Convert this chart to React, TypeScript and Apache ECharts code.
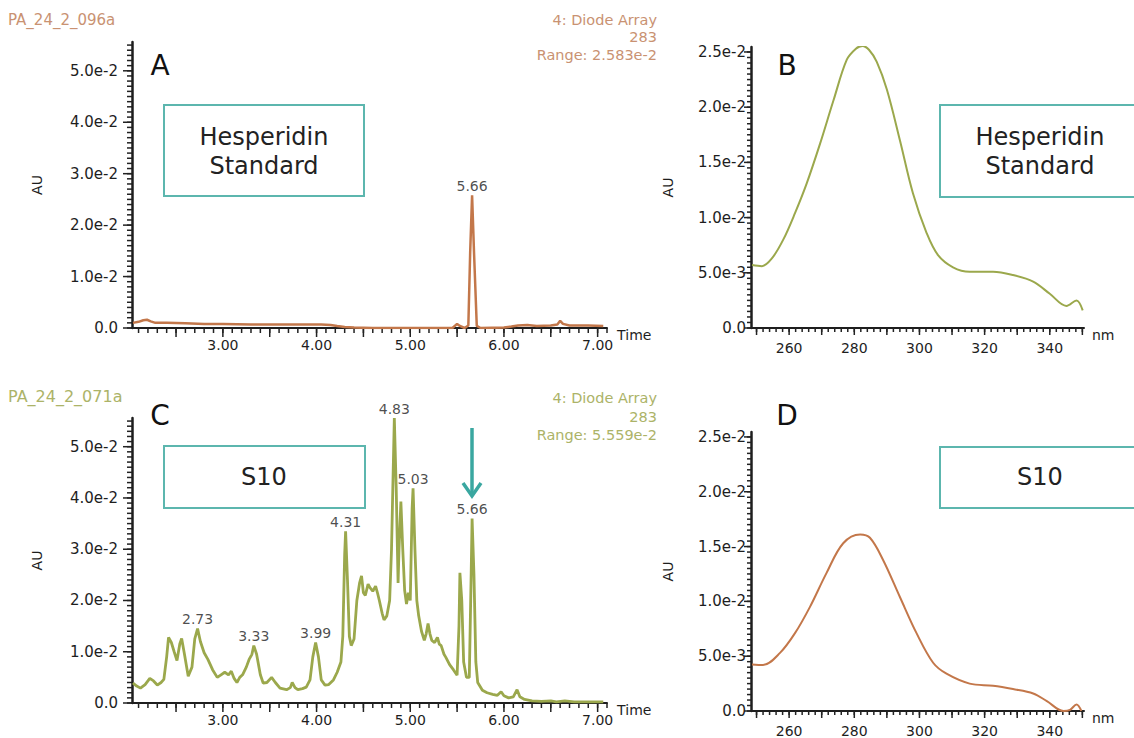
import React, { useEffect, useRef } from "react";
import * as echarts from "echarts";

// ---- Panel A: Hesperidin standard chromatogram (283 nm) ----
const timeA = [2.04, 2.1, 2.15, 2.19, 2.23, 2.28, 2.4, 2.6, 2.8, 3.0, 3.3, 3.6, 3.9, 4.05, 4.15, 4.22, 4.3, 4.4, 4.6, 5.0, 5.45, 5.5, 5.53, 5.58, 5.62, 5.64, 5.66, 5.68, 5.71, 5.75, 6.0, 6.08, 6.15, 6.25, 6.35, 6.5, 6.57, 6.6, 6.63, 6.7, 6.9, 7.06];
const auA = [0.001, 0.0012, 0.0015, 0.0016, 0.0013, 0.001, 0.001, 0.0009, 0.0008, 0.0008, 0.0007, 0.0007, 0.0007, 0.0007, 0.0006, 0.0004, 0.0002, 0.0001, 0.0, 0.0, 0.0, 0.0008, 0.0004, 0.0, 0.0005, 0.015, 0.0258, 0.015, 0.0004, 0.0, 0.0001, 0.0003, 0.0005, 0.0006, 0.0004, 0.0005, 0.0007, 0.0014, 0.0008, 0.0005, 0.0005, 0.0004];
const peakTimesA = [5.66];

// ---- Panel C: S10 chromatogram (283 nm) ----
const timeC = [2.04, 2.08, 2.12, 2.17, 2.22, 2.26, 2.3, 2.34, 2.37, 2.4, 2.42, 2.45, 2.48, 2.51, 2.54, 2.56, 2.59, 2.63, 2.67, 2.7, 2.73, 2.76, 2.8, 2.84, 2.89, 2.94, 2.98, 3.02, 3.06, 3.09, 3.12, 3.15, 3.18, 3.21, 3.25, 3.28, 3.31, 3.33, 3.36, 3.4, 3.43, 3.47, 3.52, 3.56, 3.61, 3.68, 3.72, 3.74, 3.77, 3.8, 3.85, 3.89, 3.93, 3.96, 3.99, 4.02, 4.05, 4.09, 4.13, 4.18, 4.22, 4.26, 4.28, 4.3, 4.31, 4.33, 4.35, 4.37, 4.4, 4.43, 4.46, 4.48, 4.5, 4.52, 4.55, 4.57, 4.6, 4.63, 4.65, 4.67, 4.7, 4.72, 4.75, 4.78, 4.8, 4.83, 4.85, 4.87, 4.88, 4.9, 4.92, 4.94, 4.96, 4.98, 5.0, 5.02, 5.03, 5.05, 5.07, 5.09, 5.12, 5.15, 5.17, 5.19, 5.21, 5.23, 5.26, 5.29, 5.31, 5.33, 5.36, 5.38, 5.42, 5.46, 5.5, 5.52, 5.53, 5.55, 5.57, 5.6, 5.63, 5.65, 5.66, 5.68, 5.7, 5.72, 5.77, 5.82, 5.88, 5.93, 5.97, 6.0, 6.05, 6.1, 6.14, 6.17, 6.22, 6.3, 6.4, 6.5, 6.56, 6.65, 6.75, 6.9, 7.06];
const auC = [0.0039, 0.0033, 0.0029, 0.0036, 0.0048, 0.0043, 0.0035, 0.004, 0.0046, 0.009, 0.0128, 0.0118, 0.01, 0.0083, 0.0115, 0.0126, 0.0095, 0.0052, 0.007, 0.0125, 0.0145, 0.012, 0.0098, 0.0085, 0.0065, 0.005, 0.0055, 0.006, 0.0055, 0.0062, 0.0048, 0.004, 0.005, 0.0055, 0.007, 0.0085, 0.0095, 0.0112, 0.0095, 0.0055, 0.0039, 0.004, 0.005, 0.004, 0.0029, 0.0026, 0.003, 0.004, 0.003, 0.0026, 0.0028, 0.0031, 0.0045, 0.009, 0.0118, 0.009, 0.0045, 0.0035, 0.0036, 0.0045, 0.006, 0.008, 0.013, 0.029, 0.0335, 0.024, 0.013, 0.0112, 0.0125, 0.02, 0.0235, 0.0248, 0.0215, 0.021, 0.0232, 0.0225, 0.0218, 0.0228, 0.0215, 0.02, 0.0175, 0.0162, 0.017, 0.02, 0.03, 0.0556, 0.042, 0.0234, 0.03, 0.0393, 0.03, 0.022, 0.0193, 0.0215, 0.02, 0.038, 0.0419, 0.03, 0.02, 0.017, 0.014, 0.0122, 0.0135, 0.0155, 0.0135, 0.0122, 0.0118, 0.0128, 0.0115, 0.0112, 0.0095, 0.0089, 0.0075, 0.0065, 0.0054, 0.015, 0.0254, 0.02, 0.008, 0.005, 0.005, 0.025, 0.036, 0.025, 0.008, 0.004, 0.0025, 0.002, 0.0017, 0.0015, 0.0022, 0.0014, 0.001, 0.0012, 0.0026, 0.0012, 0.0007, 0.0004, 0.0003, 0.0004, 0.0002, 0.0004, 0.0002, 0.0002, 0.0002];
const peakTimesC = [2.73, 3.33, 3.99, 4.31, 4.83, 5.03, 5.66];

// ---- Panel B: Hesperidin standard UV spectrum ----
const nmB = [248.6, 251.6, 254.7, 258.2, 261.8, 265.4, 269.5, 273.6, 277.7, 280.5, 282.5, 284.5, 286.9, 290, 294, 298, 302.2, 305.7, 310.3, 315.4, 322.6, 328.7, 334.9, 340, 345.1, 348.2, 350.1];
const auB = [0.0057, 0.0056, 0.0063, 0.008, 0.0104, 0.0131, 0.0167, 0.0206, 0.0243, 0.0253, 0.02555, 0.0252, 0.0241, 0.0216, 0.017, 0.0122, 0.0086, 0.0066, 0.0055, 0.0051, 0.0051, 0.0048, 0.0042, 0.0031, 0.002, 0.0025, 0.0016];

// ---- Panel D: S10 UV spectrum ----
const nmD = [248.6, 252, 257.2, 261.8, 266.4, 271.5, 276.6, 281.8, 284.8, 288.8, 294, 299.1, 304.2, 308.3, 315.4, 322.6, 328.7, 334.9, 339.1, 344.2, 346.2, 348.2, 349.7];
const auD = [0.00425, 0.0042, 0.0053, 0.0071, 0.0095, 0.0126, 0.0153, 0.0161, 0.0158, 0.0138, 0.0104, 0.0071, 0.0044, 0.0034, 0.0025, 0.0023, 0.002, 0.0016, 0.0009, 0.0, 0.0001, 0.0006, 0.0];

// ---- tick labels ----
const timeTickLabels = [3, 4, 5, 6, 7];
const nmTickLabels = [260, 280, 300, 320, 340];

// ---- texts ----
const fileA = "PA_24_2_096a";
const fileC = "PA_24_2_071a";
const infoA = ["4: Diode Array", "283", "Range: 2.583e-2"];
const infoC = ["4: Diode Array", "283", "Range: 5.559e-2"];
const boxAB = "Hesperidin\nStandard";
const boxCD = "S10";

const FONT = "DejaVu Sans";
const INK = "#1e1e1e";
const TICK = "#222222";
const BROWN = "#c3774a";
const OLIVE = "#9ba84c";
const TEAL = "#5cb6ae";

function pairs(x: number[], y: number[]) {
  return x.map((v, i) => [v, y[i]]);
}
function peakData(times: number[], x: number[], y: number[]) {
  return times.map((t) => [t, y[x.indexOf(t)]]);
}
function steps(a: number, b: number, step: number) {
  const out: number[] = [];
  const n = Math.round((b - a) / step);
  for (let i = 0; i <= n; i++) out.push(Math.round((a + i * step) * 1e7) / 1e7);
  return out;
}
const auFmt = (v: number) => (v === 0 ? "0.0" : v.toExponential(1));

type Rect = { left: number; top: number; width: number; height: number };

function txt(x: number, y: number, text: string, size: number, fill: string, align = "center", vAlign = "middle", lineHeight?: number) {
  return {
    type: "text",
    x,
    y,
    silent: true,
    z: 10,
    style: {
      text,
      fill,
      fontFamily: FONT,
      fontSize: size,
      align,
      verticalAlign: vAlign,
      lineHeight: lineHeight ?? Math.round(size * 1.2),
    },
  };
}

function boxRect(x: number, y: number, w: number, h: number) {
  return {
    type: "rect",
    shape: { x, y, width: w, height: h },
    silent: true,
    z: 9,
    style: { fill: "#ffffff", stroke: TEAL, lineWidth: 2 },
  };
}

function buildOption() {
  const grids: any[] = [];
  const xAxes: any[] = [];
  const yAxes: any[] = [];
  const series: any[] = [];

  function panel(cfg: {
    rect: Rect;
    xMin: number;
    xMax: number;
    yMax: number;
    yInterval: number;
    xLabels: number[];
    xFmt: (v: number) => string;
    xName: string;
    xNameGap: number;
    xMargin: number;
    yMargin: number;
    yNameGap: number;
    xMinor: number[];
    xMajor: number[];
    yMinor: number[];
    yMajor: number[];
    minorLen: number;
    majorLen: number;
  }) {
    const g = grids.length;
    grids.push({ ...cfg.rect });
    const xi = xAxes.length;
    xAxes.push({
      type: "value",
      gridIndex: g,
      position: "bottom",
      min: cfg.xMin,
      max: cfg.xMax,
      axisLine: { show: true, onZero: false, lineStyle: { color: INK, width: 2 } },
      axisTick: { show: false },
      axisLabel: {
        show: true,
        customValues: cfg.xLabels,
        formatter: cfg.xFmt,
        margin: cfg.xMargin,
        fontFamily: FONT,
        fontSize: 14,
        color: INK,
      },
      splitLine: { show: false },
      name: cfg.xName,
      nameLocation: "end",
      nameGap: cfg.xNameGap,
      nameTextStyle: { fontFamily: FONT, fontSize: 14, color: INK, verticalAlign: "top" },
    });
    const yi = yAxes.length;
    yAxes.push({
      type: "value",
      gridIndex: g,
      position: "left",
      min: 0,
      max: cfg.yMax,
      interval: cfg.yInterval,
      axisLine: { show: true, lineStyle: { color: INK, width: 2.5 } },
      axisTick: { show: false },
      axisLabel: {
        show: true,
        formatter: auFmt,
        showMaxLabel: false,
        margin: cfg.yMargin,
        fontFamily: FONT,
        fontSize: 15,
        color: INK,
      },
      splitLine: { show: false },
      name: "AU",
      nameLocation: "middle",
      nameGap: cfg.yNameGap,
      nameTextStyle: { fontFamily: FONT, fontSize: 14, color: INK },
    });
    const p = { xi, yi };

    // ruler ticks, placed through the axes' own scales
    const xTicks = [...cfg.xMinor.map((v) => [v, cfg.minorLen]), ...cfg.xMajor.map((v) => [v, cfg.majorLen])];
    const yTicks = [...cfg.yMinor.map((v) => [v, cfg.minorLen]), ...cfg.yMajor.map((v) => [v, cfg.majorLen])];
    const xMin = cfg.xMin;
    series.push({
      type: "custom",
      xAxisIndex: xi,
      yAxisIndex: yi,
      clip: false,
      data: xTicks,
      renderItem: (params: any, api: any) => {
        const pt = api.coord([api.value(0), 0]);
        return {
          type: "line",
          shape: { x1: pt[0], y1: pt[1], x2: pt[0], y2: pt[1] + api.value(1) },
          style: { stroke: TICK, lineWidth: 1.5 },
        };
      },
    });
    series.push({
      type: "custom",
      xAxisIndex: xi,
      yAxisIndex: yi,
      clip: false,
      data: yTicks,
      renderItem: (params: any, api: any) => {
        const pt = api.coord([xMin, api.value(0)]);
        return {
          type: "line",
          shape: { x1: pt[0] - api.value(1), y1: pt[1], x2: pt[0], y2: pt[1] },
          style: { stroke: TICK, lineWidth: 1.5 },
        };
      },
    });
    return p;
  }

  const tFmt = (v: number) => v.toFixed(2);
  const nmFmt = (v: number) => String(Math.round(v));

  const chromBase = {
    xMin: 2.03,
    xMax: 7.1,
    yMax: 0.0556,
    yInterval: 0.01,
    xLabels: timeTickLabels,
    xFmt: tFmt,
    xName: "Time",
    xNameGap: 6,
    xMargin: 10,
    yMargin: 14,
    yNameGap: 88,
    xMinor: steps(2.1, 7.1, 0.1),
    xMajor: steps(2.5, 7.0, 0.5),
    yMinor: steps(0, 0.055, 0.001),
    yMajor: steps(0, 0.05, 0.01),
    minorLen: 5,
    majorLen: 9,
  };
  const specBase = {
    xMin: 248.3,
    xMax: 350.5,
    yMax: 0.02545,
    yInterval: 0.005,
    xLabels: nmTickLabels,
    xFmt: nmFmt,
    xName: "nm",
    xNameGap: 8,
    xMargin: 13,
    yMargin: 5,
    yNameGap: 76,
    xMinor: steps(250, 350, 2),
    xMajor: steps(250, 350, 10),
    yMinor: steps(0, 0.025, 0.0005),
    yMajor: steps(0, 0.025, 0.005),
    minorLen: 4,
    majorLen: 7,
  };

  const pA = panel({ ...chromBase, rect: { left: 132, top: 42, width: 475, height: 286 } });
  const pB = panel({ ...specBase, rect: { left: 751, top: 47, width: 333, height: 281 } });
  const pC = panel({ ...chromBase, rect: { left: 132, top: 418, width: 475, height: 285 } });
  const pD = panel({ ...specBase, rect: { left: 751, top: 432, width: 333, height: 280 } });

  function line(p: { xi: number; yi: number }, data: number[][], color: string, width: number, smooth: number | boolean) {
    series.push({
      type: "line",
      xAxisIndex: p.xi,
      yAxisIndex: p.yi,
      data,
      showSymbol: false,
      smooth,
      silent: true,
      z: 3,
      lineStyle: { color, width },
      itemStyle: { color },
    });
  }
  function peaks(p: { xi: number; yi: number }, data: number[][]) {
    series.push({
      type: "scatter",
      xAxisIndex: p.xi,
      yAxisIndex: p.yi,
      data,
      symbolSize: 1,
      silent: true,
      itemStyle: { color: "rgba(0,0,0,0)" },
      label: {
        show: true,
        position: "top",
        distance: 2,
        formatter: (q: any) => q.value[0].toFixed(2),
        fontFamily: FONT,
        fontSize: 14,
        color: INK,
      },
      z: 5,
    });
  }

  line(pA, pairs(timeA, auA), BROWN, 2.5, false);
  peaks(pA, peakData(peakTimesA, timeA, auA));
  line(pB, pairs(nmB, auB), OLIVE, 2, 0.35);
  line(pC, pairs(timeC, auC), OLIVE, 2.8, false);
  peaks(pC, peakData(peakTimesC, timeC, auC));
  line(pD, pairs(nmD, auD), BROWN, 2, 0.35);

  return {
    animation: false,
    backgroundColor: "#ffffff",
    grid: grids,
    xAxis: xAxes,
    yAxis: yAxes,
    series,
    graphic: [
      // headers
      txt(8, 20, fileA, 15, "#c99272", "left", "middle"),
      txt(657, 11, infoA.join("\n"), 14.5, "#c99272", "right", "top", 17.5),
      txt(8, 396, fileC, 16, "#acb368", "left", "middle"),
      txt(657, 389, infoC.join("\n"), 14.5, "#acb368", "right", "top", 18.5),
      // panel letters
      txt(160, 65, "A", 28, "#111111"),
      txt(787, 65, "B", 28, "#111111"),
      txt(160, 415, "C", 28, "#111111"),
      txt(787, 415, "D", 28, "#111111"),
      // sample boxes
      boxRect(164, 105, 200, 91),
      txt(264, 151, boxAB, 24, "#222222", "center", "middle", 29),
      boxRect(164, 446, 201, 62),
      txt(264, 477, boxCD, 24, "#222222"),
      boxRect(940, 105, 210, 92),
      txt(1040, 151, boxAB, 24, "#222222", "center", "middle", 29),
      boxRect(940, 447, 210, 61),
      txt(1040, 477, boxCD, 24, "#222222"),
      // arrow at 5.66 in C
      {
        type: "line",
        silent: true,
        z: 10,
        shape: { x1: 472, y1: 428, x2: 472, y2: 494 },
        style: { stroke: "#3aa7a0", lineWidth: 3.5 },
      },
      {
        type: "polyline",
        silent: true,
        z: 10,
        shape: { points: [[463, 483], [472, 496], [481, 483]] },
        style: { stroke: "#3aa7a0", lineWidth: 3.5, fill: "none" },
      },
    ],
  };
}

export default function App() {
  const ref = useRef<HTMLDivElement>(null);

  useEffect(() => {
    if (!ref.current) return;
    const chart = echarts.init(ref.current, undefined, { renderer: "svg" });
    chart.setOption(buildOption() as any);
    return () => chart.dispose();
  }, []);

  return (
    <div
      ref={ref}
      style={{ position: "fixed", left: 0, top: 0, width: 1134, height: 738, background: "#fff" }}
    />
  );
}
